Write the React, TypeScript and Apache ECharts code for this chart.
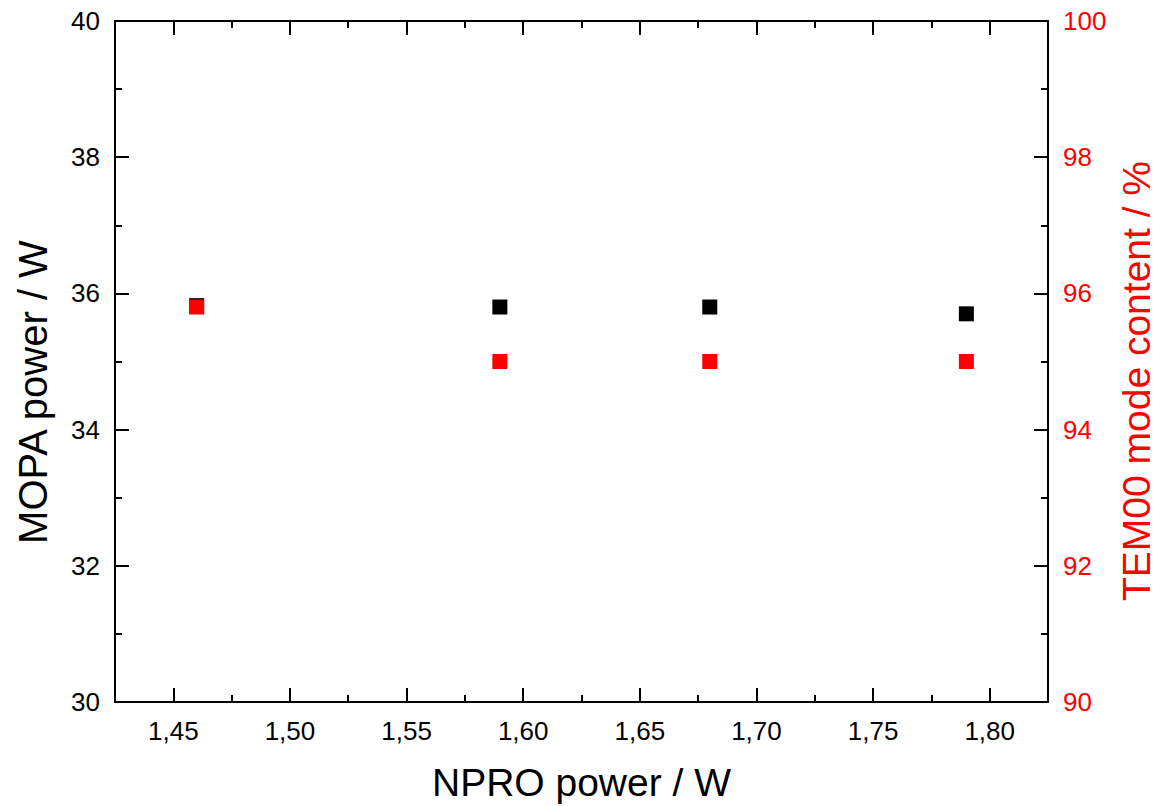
import React, { useEffect, useRef } from "react";
import * as echarts from "echarts";

const npro = [1.46, 1.59, 1.68, 1.79];
const mopaPower = [35.82, 35.8, 35.8, 35.7];
const tem00Content = [95.8, 95.0, 95.0, 95.0];
const xMajorTicks = [1.45, 1.5, 1.55, 1.6, 1.65, 1.7, 1.75, 1.8];
const xMin = 1.425;
const xMax = 1.825;
const leftTitle = "MOPA power / W";
const rightTitle = "TEM00 mode content / %";
const bottomTitle = "NPRO power / W";

const FONT = "'Liberation Sans', Arial, sans-serif";

function fmtX(v: number): string {
  const k = Math.round(v / 0.05);
  if (Math.abs(v - k * 0.05) > 1e-6) return "";
  return v.toFixed(2).replace(".", ",");
}

export default function App() {
  const ref = useRef<HTMLDivElement>(null);
  useEffect(() => {
    if (!ref.current) return;
    const chart = echarts.init(ref.current, null, { renderer: "svg" });
    const gridRect = { left: 115, right: 111, top: 21, bottom: 104, containLabel: false, outerBoundsMode: "none" };
    const line = { show: true, lineStyle: { color: "#000", width: 2 } };
    const majorTick = (len: number) => ({ show: true, inside: true, length: len, lineStyle: { color: "#000", width: 2 } });
    chart.setOption({
      animation: false,
      backgroundColor: "#fff",
      grid: [{ ...gridRect }, { ...gridRect }],
      graphic: [
        {
          type: "text", x: 33, y: 392, rotation: Math.PI / 2,
          style: { text: leftTitle, font: `40px ${FONT}`, fill: "#000", align: "center", verticalAlign: "middle" },
        },
        {
          type: "text", x: 1136, y: 381, rotation: Math.PI / 2,
          style: { text: rightTitle, font: `39px ${FONT}`, fill: "#ff0000", align: "center", verticalAlign: "middle" },
        },
      ],
      xAxis: [
        {
          type: "value", gridIndex: 0, position: "bottom", min: xMin, max: xMax, splitNumber: 8,
          axisLine: line,
          axisTick: { ...majorTick(14), customValues: xMajorTicks },
          axisLabel: {
            customValues: xMajorTicks,
            formatter: fmtX, fontSize: 26, color: "#000", fontFamily: FONT, margin: 16,
          },
          splitLine: { show: false },
          name: bottomTitle, nameLocation: "middle", nameGap: 61,
          nameTextStyle: { fontSize: 39, color: "#000", fontFamily: FONT },
        },
        {
          type: "value", gridIndex: 0, position: "top", min: xMin, max: xMax, splitNumber: 8,
          axisLine: line,
          axisTick: { ...majorTick(14), customValues: xMajorTicks },
          axisLabel: { show: false },
          splitLine: { show: false },
        },
        {
          type: "value", gridIndex: 1, position: "bottom", min: xMin, max: xMax, interval: 0.025,
          axisLine: { show: false },
          axisTick: majorTick(7),
          axisLabel: { show: false },
          splitLine: { show: false },
        },
        {
          type: "value", gridIndex: 1, position: "top", min: xMin, max: xMax, interval: 0.025,
          axisLine: { show: false },
          axisTick: majorTick(7),
          axisLabel: { show: false },
          splitLine: { show: false },
        },
      ],
      yAxis: [
        {
          type: "value", gridIndex: 0, position: "left", min: 30, max: 40, interval: 2,
          axisLine: line,
          axisTick: majorTick(14),
          minorTick: { show: true, splitNumber: 2, length: 7, lineStyle: { color: "#000", width: 2 } },
          axisLabel: { fontSize: 26, color: "#000", fontFamily: FONT, margin: 15 },
          splitLine: { show: false },
        },
        {
          type: "value", gridIndex: 0, position: "right", min: 90, max: 100, interval: 2,
          axisLine: line,
          axisTick: majorTick(14),
          minorTick: { show: true, splitNumber: 2, length: 7, lineStyle: { color: "#000", width: 2 } },
          axisLabel: { fontSize: 26, color: "#ff0000", fontFamily: FONT, margin: 15 },
          splitLine: { show: false },
        },
        {
          type: "value", gridIndex: 1, position: "left", min: 30, max: 40, interval: 2,
          axisLine: { show: false }, axisTick: { show: false }, axisLabel: { show: false },
          splitLine: { show: false },
        },
      ],
      series: [
        {
          type: "scatter", xAxisIndex: 0, yAxisIndex: 0,
          data: npro.map((x, i) => [x, mopaPower[i]]),
          symbol: "rect", symbolSize: 15,
          itemStyle: { color: "#000", opacity: 1 },
          z: 2,
        },
        {
          type: "scatter", xAxisIndex: 0, yAxisIndex: 1,
          data: npro.map((x, i) => [x, tem00Content[i]]),
          symbol: "rect", symbolSize: 15,
          itemStyle: { color: "#ff0000", opacity: 1 },
          z: 3,
        },
      ],
    });
    return () => chart.dispose();
  }, []);
  return (
    <div
      ref={ref}
      style={{ position: "absolute", left: 0, top: 0, width: 1159, height: 806 }}
    />
  );
}
